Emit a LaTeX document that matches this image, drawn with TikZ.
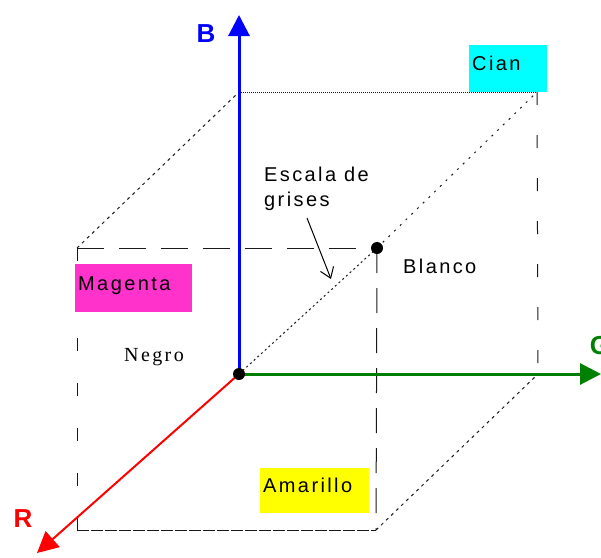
\documentclass[tikz,border=0pt]{standalone}
\usepackage{fontspec}
\setmainfont{Liberation Sans}[LetterSpace=12]
\newfontfamily\serifneg{Liberation Serif}[LetterSpace=12]
\newfontfamily\axisfont{Liberation Sans}[LetterSpace=0]
\usetikzlibrary{arrows.meta}
\definecolor{axisgreen}{RGB}{0,128,0}
\definecolor{cianc}{RGB}{0,255,255}
\definecolor{magc}{RGB}{255,51,204}
\definecolor{amac}{RGB}{255,255,0}
\tikzset{
  edge/.style={black!90, line width=1pt},
  axis/.style={line width=3pt, -{Triangle[length=21pt,width=21pt]}},
  axlabel/.style={font=\axisfont\fontsize{26}{30}\selectfont\bfseries, inner sep=0pt},
  colorbox/.style={anchor=north west, inner sep=3pt, align=left, text height=16pt, text depth=11.6pt,
    font=\fontsize{20}{24}\selectfont},
  plain/.style={font=\fontsize{20}{24}\selectfont, inner sep=0pt},
  dot/.style={circle, fill=black, inner sep=0pt, minimum size=12pt}
}
\begin{document}
\begin{tikzpicture}[x=1pt,y=-1pt]
\useasboundingbox (0,0) rectangle (601,557);
% cube corners
\coordinate (C1) at (77,248);
\coordinate (C2) at (239,92);
\coordinate (C3) at (537,92);
\coordinate (C4) at (538,374);
\coordinate (C5) at (376,530);
\coordinate (C6) at (77,530);
\coordinate (O) at (239,374);
\coordinate (W) at (377,248);
\coordinate (Btip) at (239,15);
\coordinate (Gtip) at (601,374);
\coordinate (Rtip) at (37,553);
% cube edges
\draw[edge, densely dotted] (C2) -- (C3);
\draw[edge, dash pattern=on 3pt off 4pt] (C1) -- (C2);
\draw[edge, dash pattern=on 27pt off 15pt] (C1) -- (W);
\draw[edge, dash pattern=on 13pt off 32pt] (C1) -- (C6);
\draw[edge, dash pattern=on 13pt off 30pt] (C3) -- (C4);
\draw[edge, dash pattern=on 25pt off 15pt] (W) -- (C5);
\draw[edge, dash pattern=on 12pt off 2pt] (C6) -- (C5);
\draw[edge, dash pattern=on 3pt off 4pt] (C5) -- (C4);
% grey scale diagonal
\draw[edge, dash pattern=on 2pt off 3pt] (O) -- (W);
\draw[edge, dash pattern=on 2pt off 6pt] (W) -- (C3);
% axes
\draw[axis, blue] (O) -- (Btip);
\draw[axis, axisgreen] (O) -- (Gtip);
\draw[axis, red, line width=2pt] (O) -- (Rtip);
\node[axlabel, text=blue] (Blab) at (206,34) {B};
\node[axlabel, text=axisgreen] (Glab) at (600,346) {G};
\node[axlabel, text=red] (Rlab) at (23,519) {R};
% dots
\node[dot] (negro) at (O) {};
\node[dot] (blanco) at (W) {};
% color boxes
\node[colorbox, fill=cianc, minimum width=78pt, minimum height=47pt, text width=72pt] (cian) at (469,45) {Cian};
\node[colorbox, fill=magc, minimum width=117pt, minimum height=48pt, text width=111pt] (magenta) at (75,264) {Magenta};
\node[colorbox, fill=amac, minimum width=109pt, minimum height=45pt, text width=103pt] (amarillo) at (260,468) {Amarillo};
% texts
\node[plain, anchor=west] (blancolab) at (403,266) {Blanco};
\node[plain, anchor=west, font=\serifneg\fontsize{20}{24}\selectfont] (negrolab) at (124,357) {Negro};
\node[plain, anchor=north west, align=left, font=\fontsize{20}{25}\selectfont] (escala) at (264,167) {Escala de\\grises};
\coordinate (arrowtail) at (307,218);
\coordinate (arrowtip) at (331,279);
\draw[black, line width=1pt, -{Straight Barb[length=10pt,width=14pt]}] (arrowtail) -- (arrowtip);
\end{tikzpicture}
\end{document}
